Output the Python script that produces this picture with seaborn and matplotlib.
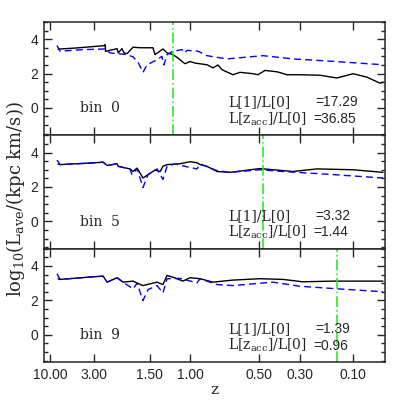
import numpy as np
import pandas as pd
import matplotlib
matplotlib.use("Agg")
import matplotlib.pyplot as plt
import seaborn as sns
from matplotlib.ticker import MultipleLocator

# cosmic time axis (Gyr), flat LCDM, Om=0.25, h=0.73
OM, OL, H0 = 0.25, 0.75, 73.0


def cosmic_time(z):
    a_fac = 2.0 / 3.0 * (977.8 / H0) / np.sqrt(OL)
    return a_fac * np.arcsinh(np.sqrt(OL / OM) * (1.0 + np.asarray(z)) ** -1.5)


tick_z = [10.0, 3.0, 1.5, 1.0, 0.5, 0.3, 0.1]
tick_labels = ["10.00", "3.00", "1.50", "1.00", "0.50", "0.30", "0.10"]

bins = ["bin 0", "bin 5", "bin 9"]
ratio_1 = ["=17.29", "=3.32", "=1.39"]
ratio_acc = ["=36.85", "=1.44", "=0.96"]
t_acc = [5.29, 8.81, 11.70]   # z_acc marker position (Gyr)

# bin 0
t_b0_total = [0.80, 1.54, 2.60, 2.64, 2.66, 3.11, 3.15, 3.30, 3.38, 3.50, 3.73, 4.01, 4.51, 4.59,
              4.90, 5.06, 5.29, 5.49, 5.76, 5.96, 6.15, 6.62, 6.86, 7.05, 7.21, 7.64, 7.91, 8.42,
              8.61, 8.89, 9.36, 9.75, 10.26, 11.04, 11.70, 12.33, 12.87, 13.38, 13.50]
L_b0_total = [3.42, 3.49, 3.62, 3.68, 3.29, 3.45, 3.20, 3.45, 3.20, 3.16, 3.53, 3.50, 3.50, 3.10,
              3.43, 3.20, 3.10, 2.90, 2.57, 2.70, 2.61, 2.51, 2.33, 2.50, 2.22, 1.93, 2.07, 1.99,
              1.93, 2.18, 2.10, 1.93, 1.93, 1.90, 1.74, 1.99, 1.79, 1.44, 1.50]
t_b0_main = [0.76, 0.88, 1.78, 2.64, 2.83, 3.50, 3.73, 3.93, 4.12, 4.28, 4.67, 4.86, 4.94, 5.06,
             5.29, 5.65, 5.76, 5.84, 6.27, 6.62, 7.40, 8.81, 9.98, 11.54, 13.50]
L_b0_main = [3.63, 3.30, 3.39, 3.43, 3.20, 3.10, 2.97, 2.65, 2.07, 2.51, 2.80, 3.00, 2.50, 3.10,
             3.30, 3.39, 3.20, 3.35, 3.30, 3.04, 2.85, 3.04, 2.85, 2.71, 2.51]

# bin 5
t_b5_total = [0.80, 0.88, 2.17, 2.56, 2.72, 3.11, 3.15, 3.61, 3.73, 3.89, 4.12, 4.40, 4.59, 4.79,
              4.90, 5.06, 5.57, 5.96, 6.23, 6.35, 6.62, 7.01, 7.52, 8.69, 9.98, 10.92, 12.33, 13.50]
L_b5_total = [3.33, 3.30, 3.40, 3.44, 3.25, 3.35, 3.20, 3.05, 2.90, 3.10, 2.52, 2.80, 2.98, 2.90,
              3.20, 3.30, 3.35, 3.47, 3.41, 3.30, 3.20, 2.90, 2.85, 3.07, 2.90, 3.05, 3.00, 2.85]
t_b5_main = [0.76, 0.88, 2.17, 2.56, 2.72, 3.11, 3.15, 3.61, 3.69, 3.89, 4.12, 4.32, 4.67, 4.90,
             5.06, 5.37, 5.76, 6.23, 6.35, 7.01, 7.52, 8.69, 9.59, 11.54, 13.50]
L_b5_main = [3.56, 3.30, 3.40, 3.44, 3.25, 3.35, 3.20, 3.05, 2.72, 3.05, 1.97, 2.72, 3.05, 2.43,
             3.20, 3.34, 3.20, 3.05, 3.34, 2.95, 2.85, 3.00, 2.90, 2.72, 2.52]

# bin 9
t_b9_total = [0.80, 0.88, 2.17, 2.56, 2.72, 3.11, 3.34, 3.73, 3.93, 4.12, 4.67, 4.90, 5.06, 5.29,
              5.68, 5.96, 6.35, 6.86, 7.64, 8.69, 9.59, 10.37, 11.54, 13.50]
L_b9_total = [3.25, 3.22, 3.37, 3.41, 3.06, 3.32, 3.06, 3.12, 2.98, 2.86, 3.06, 2.92, 3.45, 3.35,
              3.12, 3.32, 3.26, 3.06, 3.18, 3.26, 3.22, 3.08, 3.12, 3.12]
t_b9_main = [0.76, 0.88, 2.17, 2.56, 2.72, 3.11, 3.34, 3.73, 3.89, 4.12, 4.32, 4.67, 4.90, 5.06,
             5.57, 6.23, 6.35, 7.01, 7.64, 9.20, 10.26, 11.54, 13.50]
L_b9_main = [3.55, 3.22, 3.37, 3.41, 3.06, 3.32, 3.06, 2.67, 3.00, 1.99, 2.63, 2.86, 2.43, 3.26,
             3.28, 3.02, 3.26, 2.92, 2.86, 3.06, 2.82, 2.69, 2.50]

totals = [(t_b0_total, L_b0_total), (t_b5_total, L_b5_total), (t_b9_total, L_b9_total)]
mains = [(t_b0_main, L_b0_main), (t_b5_main, L_b5_main), (t_b9_main, L_b9_main)]

sns.set_style("ticks")
plt.rcParams["font.family"] = ["DejaVu Serif"]
plt.rcParams["mathtext.fontset"] = "dejavuserif"

fig, axes = plt.subplots(3, 1, figsize=(4.07, 4.07), dpi=100, sharex=True)
fig.subplots_adjust(left=0.108, right=0.946, bottom=0.110, top=0.946, hspace=0)

sans = "Liberation Sans"
for i, ax in enumerate(axes):
    tt, ll = totals[i]
    tm, lm = mains[i]
    df_tot = pd.DataFrame({"t": tt, "L": ll})
    df_main = pd.DataFrame({"t": tm, "L": lm})
    sns.lineplot(data=df_tot, x="t", y="L", ax=ax, color="black", lw=1.0,
                 estimator=None, sort=False)
    sns.lineplot(data=df_main, x="t", y="L", ax=ax, color="#0000ff", lw=1.0,
                 estimator=None, sort=False, linestyle=(0, (5, 3)))
    ax.axvline(t_acc[i], color="#11ee11", lw=1.1, linestyle=(0, (7, 2, 1, 2)))

    ax.set_xlim(0.25, cosmic_time(0.0))
    ax.set_ylim(-1.6, 5.0)
    ax.set_xticks(cosmic_time(tick_z))
    ax.set_xticklabels(tick_labels)
    ax.yaxis.set_major_locator(MultipleLocator(2))
    ax.yaxis.set_minor_locator(MultipleLocator(0.5))
    ax.tick_params(which="both", direction="in", top=True, right=True, width=1.0,
                   labelsize=10, labelfontfamily=sans)
    ax.tick_params(which="major", length=5.5, pad=4)
    ax.tick_params(which="minor", length=2.8)
    ax.tick_params(axis="x", which="minor", bottom=False, top=False)
    for sp in ax.spines.values():
        sp.set_linewidth(1.1)
    ax.set_xlabel("")
    ax.set_ylabel("")

    ax.text(0.106, 0.239, bins[i].replace(" ", "  "), transform=ax.transAxes,
            fontsize=10, va="center", ha="left")
    ax.text(0.54, 0.292, "L[1]/L[0]", transform=ax.transAxes,
            fontsize=10, va="center", ha="left")
    ax.text(0.795, 0.292, ratio_1[i], transform=ax.transAxes, fontfamily=sans,
            fontsize=10, va="center", ha="left")
    ax.text(0.54, 0.146, r"L[z$_{\rm acc}$]/L[0]", transform=ax.transAxes,
            fontsize=10, va="center", ha="left")
    ax.text(0.79, 0.146, ratio_acc[i], transform=ax.transAxes, fontfamily=sans,
            fontsize=10, va="center", ha="left")

for ax in axes[:-1]:
    ax.tick_params(axis="x", labelbottom=False)

axes[-1].set_xlabel("z", fontsize=11, labelpad=1)
fig.text(0.038, 0.51, r"log$_{10}$(L$_{\rm ave}$/(kpc km/s))", rotation=90,
         fontsize=13, va="center", ha="center")

plt.savefig("out.png", dpi=100)
